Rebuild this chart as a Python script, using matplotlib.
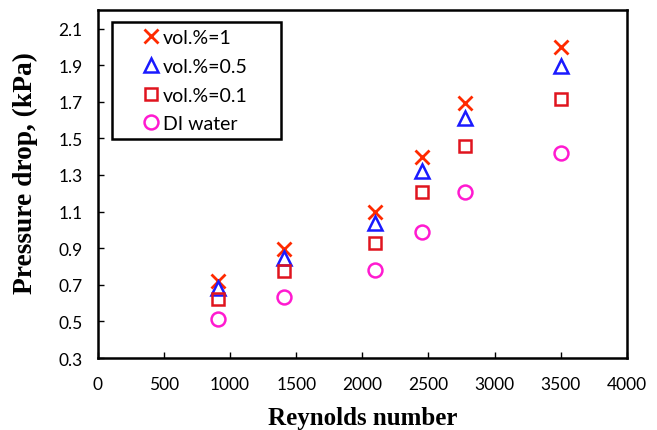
import numpy as np
import matplotlib.pyplot as plt

reynolds = [910, 1405, 2095, 2455, 2780, 3500]
vol_1 = [0.72, 0.895, 1.10, 1.40, 1.695, 2.00]
vol_05 = [0.685, 0.845, 1.04, 1.32, 1.61, 1.895]
vol_01 = [0.62, 0.775, 0.93, 1.205, 1.46, 1.715]
di_water = [0.515, 0.635, 0.78, 0.99, 1.205, 1.42]

fig = plt.figure(figsize=(6.57, 4.31), dpi=100)
ax = fig.add_axes([0.149, 0.167, 0.805, 0.807])

ax.plot(reynolds, vol_1, ls='none', marker='x', ms=10, mew=2, color='#ff2a00', label='vol.%=1')
ax.plot(reynolds, vol_05, ls='none', marker='^', ms=10, mew=1.8, mfc='none', color='#1a1aff', label='vol.%=0.5')
ax.plot(reynolds, vol_01, ls='none', marker='s', ms=9, mew=1.8, mfc='none', color='#e0141e', label='vol.%=0.1')
ax.plot(reynolds, di_water, ls='none', marker='o', ms=10, mew=1.8, mfc='none', color='#ff1ad0', label='DI water')

ax.set_xlim(0, 4000)
ax.set_ylim(0.3, 2.2)
ax.set_xticks(np.arange(0, 4001, 500))
ax.set_yticks(np.arange(0.3, 2.11, 0.2))
ax.set_yticklabels(['%.1f' % v for v in np.arange(0.3, 2.11, 0.2)])
ax.tick_params(direction='in', length=4, width=1, labelsize=12.5)
ax.tick_params(axis='x', pad=13)
ax.tick_params(axis='y', pad=11)
for lab in ax.get_xticklabels() + ax.get_yticklabels():
    lab.set_family('Lato')
for s in ax.spines.values():
    s.set_linewidth(1.8)

ax.set_xlabel('Reynolds number', family='Liberation Serif', fontweight='bold', fontsize=18, labelpad=10)
ax.set_ylabel('Pressure drop, (kPa)', family='Liberation Serif', fontweight='bold', fontsize=19.8)
ax.yaxis.set_label_coords(-0.113, 0.535)

leg = ax.legend(loc='upper left', bbox_to_anchor=(0.026, 0.965, 0.321, 0.0), mode='expand',
                prop={'family': 'Lato', 'size': 14},
                fancybox=False, framealpha=1, edgecolor='black', handlelength=3.3,
                handletextpad=-1.0, borderpad=0.35, labelspacing=0.6, borderaxespad=0)
leg.get_frame().set_linewidth(1.8)

fig.savefig('out.png', dpi=100)
